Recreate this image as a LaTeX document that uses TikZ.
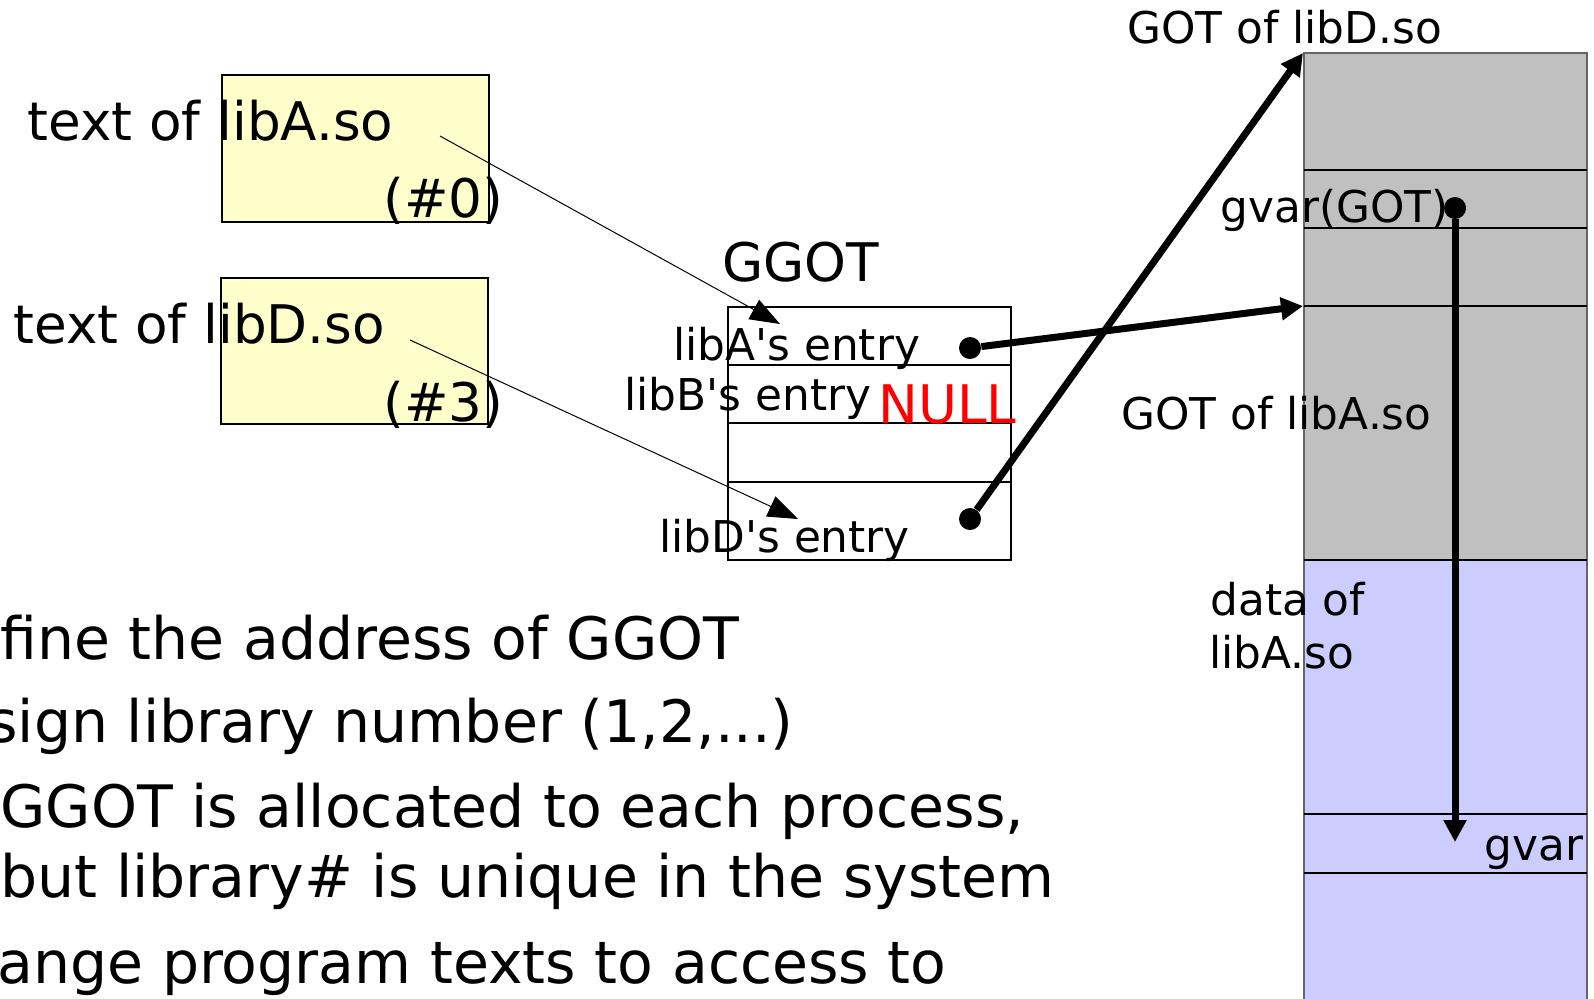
\documentclass[tikz,border=0pt]{standalone}
\usepackage{fontspec}
\setmainfont{DejaVu Sans}
\usetikzlibrary{arrows.meta}
\definecolor{memo}{HTML}{FFFFCC}
\definecolor{gotgray}{HTML}{C0C0C0}
\definecolor{datablue}{HTML}{CCCCFF}
\definecolor{edgegray}{HTML}{666666}
\newcommand{\apos}{\textquotesingle}

\begin{document}
\begin{tikzpicture}[x=0.5pt,y=-0.5pt,
  lbl/.style={inner sep=0pt, anchor=base west, font=\fontsize{21.9}{26}\selectfont},
  big/.style={inner sep=0pt, anchor=base west, font=\fontsize{26.6}{31}\selectfont},
  note/.style={inner sep=0pt, anchor=base west, font=\fontsize{29.25}{34}\selectfont},
  dot/.style={circle, fill=black, inner sep=0pt, minimum size=11pt},
  ptr/.style={line width=0.5pt, -{Triangle[length=15pt,width=11pt]}},
  link/.style={line width=3.5pt, -{Triangle[length=11pt,width=11pt]}},
  box/.style={line width=1pt},
]
\useasboundingbox (0,0) rectangle (1594,998);

% text segments of the libraries
\draw[box, fill=memo] (222,75) rectangle (489,222);
\draw[box, fill=memo] (221,278) rectangle (488,424);

% GGOT table
\draw[box] (728,307) rectangle (1011,560);
\draw[box] (728,365) -- (1011,365);
\draw[box] (728,423) -- (1011,423);
\draw[box] (728,482) -- (1011,482);

% memory column: GOT of libD.so and data of libA.so
\fill[gotgray] (1304,53) rectangle (1587,560);
\fill[datablue] (1304,560) rectangle (1587,1000);
\draw[edgegray, line width=1pt] (1304,1000) -- (1304,53) -- (1587,53) -- (1587,1000);
\foreach \yy in {170,228,306,560,814,873}
  \draw[line width=1pt] (1304,\yy) -- (1587,\yy);

% labels
\node[big] (textA) at (27,140) {text of libA.so};
\node[big] (numA) at (383,217) {(\#0)};
\node[big] (textD) at (13,343) {text of libD.so};
\node[big] (numD) at (383,421) {(\#3)};
\node[big] (ggot) at (722,281) {GGOT};
\node[lbl] (entA) at (673,360) {libA\apos s entry};
\node[lbl] (entB) at (624,410) {libB\apos s entry};
\node[big, text=red] (null) at (878,423) {NULL};
\node[lbl] (entD) at (659,552) {libD\apos s entry};
\node[lbl] (gotD) at (1127,43) {GOT of libD.so};
\node[lbl] (gvarGot) at (1220,222) {gvar(GOT)};
\node[lbl] (gotA) at (1121,429) {GOT of libA.so};
\node[lbl] (dataA1) at (1210,615) {data of};
\node[lbl] (dataA2) at (1209,668) {libA.so};
\node[lbl] (gvar) at (1484,860) {gvar};

% notes (their left ends run past the edge of the page)
\begin{scope}
\clip (0,0) rectangle (1594,998);
\node[note] (n1) at (0,659) {fine the address of GGOT};
\node[note] (n2) at (-13,742) {sign library number (1,2,...)};
\node[note] (n3) at (0,827) {GGOT is allocated to each process,};
\node[note] (n4) at (0,897) {but library\# is unique in the system};
\node[note] (n5) at (-3,983) {ange program texts to access to};
\end{scope}

% connector ends
\coordinate (fromA) at (440,136);
\coordinate (toA) at (780,324);
\coordinate (fromD) at (410,340);
\coordinate (toD) at (798,519);
\coordinate (gotAtop) at (1303,306);
\coordinate (gotDtop) at (1303,53);
\coordinate (gvarCell) at (1455,842);

\node[dot] (dotA) at (970,348) {};
\node[dot] (dotD) at (970,519) {};
\node[dot] (dotG) at (1455,208) {};

% library text -> GGOT entry
\draw[ptr] (fromA) -- (toA);
\draw[ptr] (fromD) -- (toD);

% GGOT entries -> GOTs, GOT entry -> variable
\draw[link] (dotA) -- (gotAtop);
\draw[link] (dotD) -- (gotDtop);
\draw[link] (dotG) -- (gvarCell);
\end{tikzpicture}
\end{document}
